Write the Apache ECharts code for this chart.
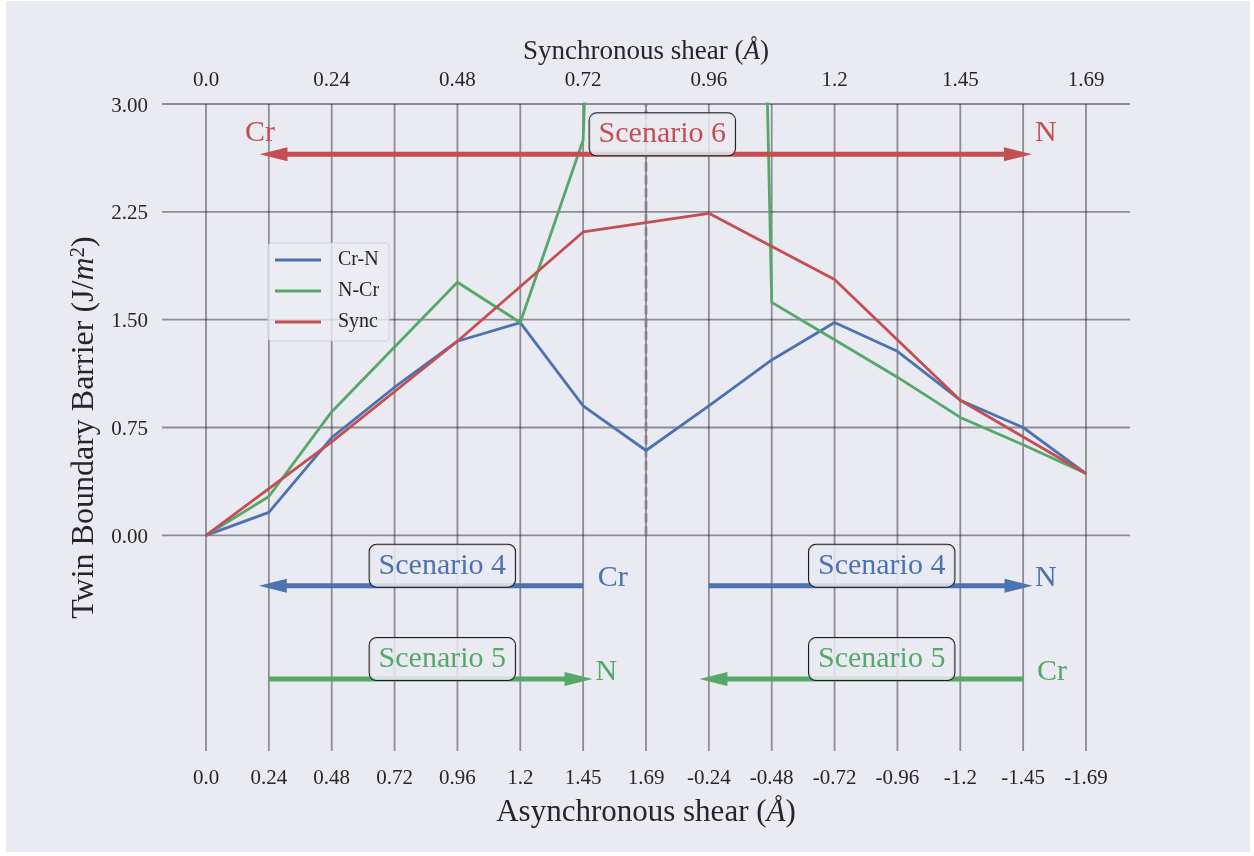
<!DOCTYPE html>
<html>
<head>
<meta charset="utf-8">
<script src="https://cdn.jsdelivr.net/npm/echarts@6/dist/echarts.min.js"></script>
<style>
  html, body { margin: 0; background: #ffffff; }
  #chart { position: absolute; left: 6px; top: 1px; width: 1244px; height: 851px; background: #EAEAF2; }
</style>
</head>
<body>
<div id="chart"></div>
<script>
// Shear steps along the path (bottom axis: asynchronous shear, top axis: synchronous shear)
const asyncLabels = ['0.0', '0.24', '0.48', '0.72', '0.96', '1.2', '1.45', '1.69',
                     '-0.24', '-0.48', '-0.72', '-0.96', '-1.2', '-1.45', '-1.69'];
const syncLabels = ['0.0', '0.24', '0.48', '0.72', '0.96', '1.2', '1.45', '1.69'];
const steps = [0, 1, 2, 3, 4, 5, 6, 7, 8, 9, 10, 11, 12, 13, 14];
const syncSteps = [0, 2, 4, 6, 8, 10, 12, 14];

// Twin boundary barrier, J/m^2
const crN  = [0, 0.16, 0.68, 1.03, 1.35, 1.48, 0.90, 0.59, 0.90, 1.22, 1.48, 1.28, 0.94, 0.75, 0.43];
const nCr  = [0, 0.27, 0.86, 1.31, 1.76, 1.48, 2.75, 15.5, 22.0, 1.62, 1.36, 1.10, 0.82, 0.63, 0.43];
const sync = [0, 0.65, 1.35, 2.11, 2.24, 1.78, 0.94, 0.43];

const yTicks = [0, 0.75, 1.5, 2.25, 3.0];

const BLUE = '#4C72B0', GREEN = '#55A868', RED = '#C44E52';
const FONT = '"Liberation Serif", "DejaVu Serif", serif';
const INK = '#262626';
const X_MIN = -0.7, X_MAX = 14.7, Y_MIN = -1.5, Y_MAX = 3.0;

// Scenario arrows in data units: start x, tip x, y, double-headed
const arrows = [
  { from: 13.14, to: 0.85, y: 2.65, both: true,  color: RED },
  { from: 6.0,   to: 0.84, y: -0.35, both: false, color: BLUE },
  { from: 8.0,   to: 13.15, y: -0.35, both: false, color: BLUE },
  { from: 1.0,   to: 6.15, y: -1.0, both: false, color: GREEN },
  { from: 13.0,  to: 7.85, y: -1.0, both: false, color: GREEN }
];

// Element labels at arrow ends
const endLabels = [
  { text: 'Cr', x: 0.86,  y: 2.82,  color: RED },
  { text: 'N',  x: 13.36, y: 2.82,  color: RED },
  { text: 'Cr', x: 6.47,  y: -0.28, color: BLUE },
  { text: 'N',  x: 13.36, y: -0.28, color: BLUE },
  { text: 'N',  x: 6.37,  y: -0.93, color: GREEN },
  { text: 'Cr', x: 13.46, y: -0.93, color: GREEN }
];

// Boxed scenario captions
const scenarioBoxes = [
  { text: 'Scenario 6', x: 7.26,  y: 2.81,  color: RED },
  { text: 'Scenario 4', x: 3.76,  y: -0.19, color: BLUE },
  { text: 'Scenario 4', x: 10.75, y: -0.19, color: BLUE },
  { text: 'Scenario 5', x: 3.76,  y: -0.84, color: GREEN },
  { text: 'Scenario 5', x: 10.75, y: -0.84, color: GREEN }
];

const GRID_STROKE = 'rgba(0,0,0,0.40)';

const chart = echarts.init(document.getElementById('chart'), null, { renderer: 'canvas' });

const option = {
  backgroundColor: '#EAEAF2',
  animation: false,
  grid: { left: 156, top: 103, width: 968, height: 647, containLabel: false },
  legend: {
    orient: 'vertical',
    left: 262, top: 242,
    icon: 'rect',
    itemWidth: 46, itemHeight: 3, itemGap: 11,
    padding: [7, 10, 9, 7],
    backgroundColor: 'rgba(236,236,244,0.8)',
    borderColor: 'rgba(205,205,215,0.9)',
    borderWidth: 1,
    borderRadius: 4,
    textStyle: { fontFamily: FONT, fontSize: 20, color: INK, padding: [2, 0, 0, 12] },
    data: ['Cr-N', 'N-Cr', 'Sync']
  },
  xAxis: [
    {
      type: 'value', position: 'bottom', min: X_MIN, max: X_MAX,
      axisLine: { show: false }, axisTick: { show: false }, splitLine: { show: false },
      axisLabel: {
        customValues: steps,
        formatter: v => asyncLabels[Math.round(v)],
        margin: 17, fontSize: 21, fontFamily: FONT, color: INK
      },
      name: 'Asynchronous shear ({it|Å})',
      nameLocation: 'middle', nameGap: 46,
      nameTextStyle: {
        fontFamily: FONT, fontSize: 31, color: INK,
        rich: { it: { fontFamily: FONT, fontSize: 31, fontStyle: 'italic', color: INK } }
      }
    },
    {
      type: 'value', position: 'top', min: X_MIN, max: X_MAX,
      axisLine: { show: false }, axisTick: { show: false }, splitLine: { show: false },
      axisLabel: {
        customValues: syncSteps,
        formatter: v => syncLabels[Math.round(v / 2)],
        margin: 13, fontSize: 21, fontFamily: FONT, color: INK
      },
      name: 'Synchronous shear ({it|Å})',
      nameLocation: 'middle', nameGap: 34,
      nameTextStyle: {
        fontFamily: FONT, fontSize: 27, color: INK,
        rich: { it: { fontFamily: FONT, fontSize: 27, fontStyle: 'italic', color: INK } }
      }
    }
  ],
  yAxis: {
    type: 'value', min: Y_MIN, max: Y_MAX,
    axisLine: { show: false }, axisTick: { show: false }, splitLine: { show: false },
    axisLabel: {
      customValues: yTicks,
      formatter: v => '{n|' + v.toFixed(2) + '}',
      margin: 14, fontSize: 21, fontFamily: FONT, color: INK,
      rich: { n: { fontFamily: FONT, fontSize: 21, color: INK, padding: [4, 0, 0, 0] } }
    },
    name: 'Twin Boundary Barrier (J/{it|m}{sup|2})',
    nameLocation: 'middle', nameGap: 58,
    nameTextStyle: {
      fontFamily: FONT, fontSize: 32, color: INK,
      rich: {
        it: { fontFamily: FONT, fontSize: 32, fontStyle: 'italic', color: INK },
        sup: { fontFamily: FONT, fontSize: 21, color: INK, verticalAlign: 'top', padding: [0, 0, 12, 0] }
      }
    }
  },
  series: [
    // vertical grid lines at every shear step
    {
      type: 'custom', name: 'vgrid', silent: true, z: 1,
      data: steps.map(s => [s, 0]),
      renderItem: (params, api) => {
        const a = api.coord([api.value(0), Y_MAX]);
        const b = api.coord([api.value(0), Y_MIN]);
        return { type: 'line', shape: { x1: a[0], y1: a[1], x2: b[0], y2: b[1] },
                 style: { stroke: GRID_STROKE, lineWidth: 1.8 } };
      }
    },
    // horizontal grid lines at labelled barrier values
    {
      type: 'custom', name: 'hgrid', silent: true, z: 1,
      data: yTicks.map(v => [0, v]),
      renderItem: (params, api) => {
        const a = api.coord([X_MIN, api.value(1)]);
        const b = api.coord([X_MAX, api.value(1)]);
        return { type: 'line', shape: { x1: a[0], y1: a[1], x2: b[0], y2: b[1] },
                 style: { stroke: GRID_STROKE, lineWidth: 1.8 } };
      }
    },
    // dashed divider between the two halves of the path
    {
      type: 'custom', name: 'divider', silent: true, z: 1,
      data: [[7, 0]],
      renderItem: (params, api) => {
        const a = api.coord([api.value(0), 0]);
        const b = api.coord([api.value(0), Y_MAX]);
        return { type: 'line', shape: { x1: a[0], y1: a[1], x2: b[0], y2: b[1] },
                 style: { stroke: 'rgba(128,128,128,0.85)', lineWidth: 2.8, lineDash: [9, 4] } };
      }
    },
    {
      type: 'line', name: 'Cr-N', z: 3, clip: true, symbol: 'none',
      data: steps.map((s, i) => [s, crN[i]]),
      lineStyle: { color: BLUE, width: 2.8 }, itemStyle: { color: BLUE }
    },
    {
      type: 'line', name: 'N-Cr', z: 3, clip: true, symbol: 'none',
      data: steps.map((s, i) => [s, nCr[i]]),
      lineStyle: { color: GREEN, width: 2.8 }, itemStyle: { color: GREEN }
    },
    {
      type: 'line', name: 'Sync', z: 3, clip: true, symbol: 'none',
      data: syncSteps.map((s, i) => [s, sync[i]]),
      lineStyle: { color: RED, width: 2.8 }, itemStyle: { color: RED }
    },
    // scenario arrows
    {
      type: 'custom', name: 'arrows', silent: true, z: 4,
      data: arrows.map(a => [a.from, a.y]),
      renderItem: (params, api) => {
        const a = arrows[params.dataIndex];
        const p0 = api.coord([a.from, a.y]);
        const p1 = api.coord([a.to, a.y]);
        const dir = Math.sign(p1[0] - p0[0]);
        const L = 28, H = 7;
        const x0 = a.both ? p0[0] + dir * L : p0[0];
        const x1 = p1[0] - dir * L + dir * 2;
        const children = [
          { type: 'line', shape: { x1: x0, y1: p0[1], x2: x1, y2: p1[1] },
            style: { stroke: a.color, lineWidth: 5 } },
          { type: 'polygon',
            shape: { points: [[p1[0], p1[1]], [p1[0] - dir * L, p1[1] - H], [p1[0] - dir * L, p1[1] + H]] },
            style: { fill: a.color } }
        ];
        if (a.both) {
          children.push({ type: 'polygon',
            shape: { points: [[p0[0], p0[1]], [p0[0] + dir * L, p0[1] - H], [p0[0] + dir * L, p0[1] + H]] },
            style: { fill: a.color } });
        }
        return { type: 'group', children };
      }
    },
    // element labels
    {
      type: 'scatter', name: 'ends', silent: true, z: 5, symbolSize: 0,
      itemStyle: { opacity: 1 },
      data: endLabels.map(l => ({
        value: [l.x, l.y],
        label: { show: true, position: 'inside', offset: [0, 3], formatter: l.text, color: l.color,
                 opacity: 1, textBorderWidth: 0, textShadowBlur: 0,
                 fontFamily: FONT, fontSize: 30 }
      }))
    },
    // boxed scenario captions
    {
      type: 'scatter', name: 'boxes', silent: true, z: 6, symbolSize: 0,
      itemStyle: { opacity: 1 },
      data: scenarioBoxes.map(b => ({
        value: [b.x, b.y],
        label: {
          show: true, position: 'inside', offset: [0, 3], formatter: b.text, color: b.color,
          opacity: 1, textBorderWidth: 0, textShadowBlur: 0,
          fontFamily: FONT, fontSize: 30, lineHeight: 32,
          backgroundColor: 'rgba(234,234,242,0.85)',
          borderColor: '#1c1c1c', borderWidth: 1, borderRadius: 7,
          padding: [6, 9, 4, 9]
        }
      }))
    }
  ]
};

chart.setOption(option);
</script>
</body>
</html>
